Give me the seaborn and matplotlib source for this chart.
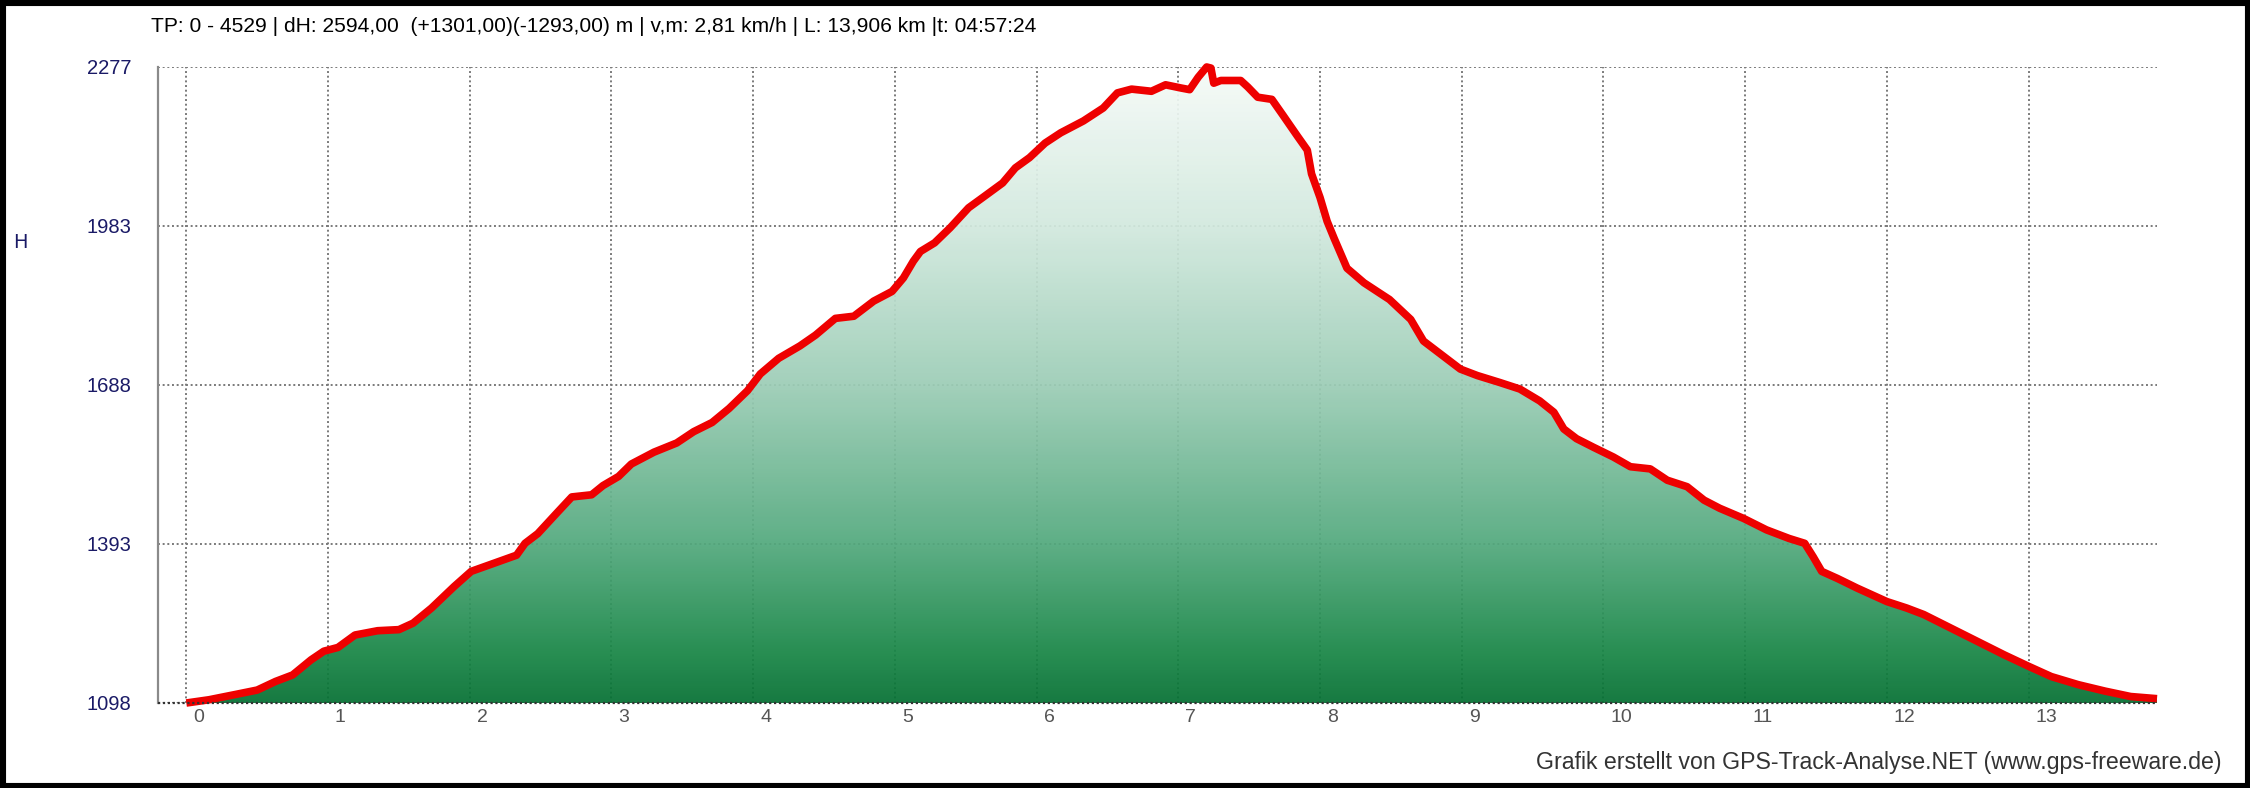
import numpy as np
import matplotlib
matplotlib.use("Agg")
import matplotlib.pyplot as plt
import seaborn as sns
from matplotlib import font_manager
from matplotlib.colors import LinearSegmentedColormap
from matplotlib.patches import Rectangle
import matplotlib.transforms as mtransforms

# ---------------- data ----------------
distance_km = [0, 0.16, 0.35, 0.5, 0.63, 0.75, 0.88, 0.97, 1.07, 1.19,
               1.35, 1.5, 1.6, 1.73, 1.89, 2.01, 2.17, 2.33, 2.39, 2.48,
               2.61, 2.72, 2.86, 2.94, 3.05, 3.14, 3.3, 3.46, 3.58, 3.71,
               3.83, 3.96, 4.05, 4.18, 4.33, 4.44, 4.58, 4.71, 4.85, 4.98,
               5.06, 5.13, 5.18, 5.28, 5.39, 5.52, 5.63, 5.76, 5.85, 5.95,
               6.06, 6.17, 6.33, 6.47, 6.57, 6.67, 6.81, 6.91, 7.02, 7.08,
               7.14, 7.2, 7.23, 7.25, 7.3, 7.44, 7.49, 7.56, 7.66, 7.74,
               7.84, 7.91, 7.94, 8.0, 8.05, 8.1, 8.19, 8.31, 8.42, 8.49,
               8.64, 8.73, 8.85, 8.99, 9.11, 9.27, 9.41, 9.55, 9.65, 9.72,
               9.81, 9.93, 10.07, 10.19, 10.33, 10.45, 10.59, 10.71, 10.82, 10.99,
               11.15, 11.31, 11.42, 11.48, 11.54, 11.65, 11.79, 12.0, 12.14, 12.26,
               12.45, 12.64, 12.83, 13.0, 13.16, 13.35, 13.54, 13.72, 13.906]
elevation_m = [1098, 1104, 1114, 1122, 1138, 1150, 1178, 1194, 1201, 1224,
               1232, 1234, 1246, 1274, 1314, 1342, 1357, 1372, 1394, 1412,
               1449, 1480, 1484, 1501, 1518, 1541, 1563, 1580, 1601, 1618,
               1644, 1677, 1708, 1737, 1760, 1780, 1811, 1815, 1843, 1861,
               1886, 1917, 1935, 1951, 1979, 2016, 2037, 2062, 2090, 2109,
               2136, 2155, 2177, 2201, 2229, 2236, 2232, 2244, 2238, 2235,
               2258, 2277, 2275, 2247, 2252, 2252, 2240, 2221, 2217, 2187,
               2149, 2123, 2079, 2035, 1991, 1959, 1904, 1877, 1858, 1846,
               1809, 1769, 1745, 1717, 1705, 1692, 1680, 1658, 1637, 1606,
               1588, 1572, 1554, 1536, 1532, 1511, 1499, 1474, 1459, 1440,
               1419, 1403, 1394, 1369, 1342, 1329, 1311, 1286, 1274, 1262,
               1237, 1212, 1187, 1166, 1147, 1132, 1120, 1110, 1106]
y_ticks = [1098, 1393, 1688, 1983, 2277]
x_ticks = list(range(0, 14))
x_labels = [str(v) for v in x_ticks]
title_text = "TP: 0 - 4529 | dH: 2594,00  (+1301,00)(-1293,00) m | v,m: 2,81 km/h | L: 13,906 km |t: 04:57:24"
credit_text = "Grafik erstellt von GPS-Track-Analyse.NET (www.gps-freeware.de)"
y_axis_label = "H"

# ---------------- style ----------------
sns.set_style("white")
avail = {f.name for f in font_manager.fontManager.ttflist}
sans = "Liberation Sans" if "Liberation Sans" in avail else "DejaVu Sans"
plt.rcParams['font.family'] = [sans, 'DejaVu Sans']

W, H = 2250, 788
fig = plt.figure(figsize=(W / 100, H / 100), dpi=100)
fig.patch.set_facecolor("white")

ax_left, ax_right, ax_top, ax_bot = 158, 2157, 67, 703
ax = fig.add_axes([ax_left / W, 1 - ax_bot / H, (ax_right - ax_left) / W, (ax_bot - ax_top) / H])
ax.set_facecolor("white")

xmin, xmax = -0.2, 13.906
ymin, ymax = y_ticks[0], y_ticks[-1]

# gradient fill clipped to profile
poly = ax.fill_between(distance_km, elevation_m, ymin, color="none", lw=0)
cmap = LinearSegmentedColormap.from_list(
    "terrain_green",
    [(0.0, "#057033"), (0.08, "#188646"), (0.25, "#52a97d"),
     (0.5, "#9ccdb6"), (0.75, "#d2e9de"), (1.0, "#f6fbf8")])
grad = np.linspace(0, 1, 256).reshape(-1, 1)
im = ax.imshow(grad, extent=[xmin, xmax, ymin, ymax], origin="lower",
               cmap=cmap, aspect="auto", zorder=1, alpha=0.93)
im.set_clip_path(poly.get_paths()[0], transform=ax.transData)

sns.lineplot(x=distance_km, y=elevation_m, ax=ax, color="#ee0000",
             linewidth=5.5, sort=False, estimator=None, zorder=3)
for ln in ax.lines:
    ln.set_clip_on(False)
    ln.set_solid_joinstyle("round")
    ln.set_solid_capstyle("butt")

ax.set_xlim(xmin, xmax)
ax.set_ylim(ymin, ymax)
ax.set_xticks(x_ticks)
ax.set_xticklabels(x_labels)
ax.set_yticks(y_ticks)
ax.set_yticklabels([str(v) for v in y_ticks])
ax.grid(True, linestyle=(0, (1, 1.4)), color="#7a7a7a", linewidth=1.4)
ax.set_axisbelow(True)
ax.axhline(ymin, color="#333333", linestyle=(0, (1, 1.2)), linewidth=1.6, zorder=4, clip_on=False)

for s in ["top", "right", "bottom"]:
    ax.spines[s].set_visible(False)
ax.spines["left"].set_color("#8a8a8a")
ax.spines["left"].set_linewidth(1.6)

ax.tick_params(axis="y", direction="in", length=9, width=1.4, color="#8a8a8a",
               labelcolor="#1a1a66", labelsize=14.5, pad=19)
ax.tick_params(axis="x", direction="out", length=13, width=2.0, color="#111111",
               labelcolor="#555555", labelsize=14, pad=-9)
offset = mtransforms.ScaledTranslation(5 / 72, 0, fig.dpi_scale_trans)
for lbl in ax.get_xticklabels():
    lbl.set_horizontalalignment("left")
    lbl.set_transform(lbl.get_transform() + offset)
ax.set_xlabel("")
ax.set_ylabel("")

# texts
def fit_text(t, target_px):
    fig.canvas.draw()
    r = fig.canvas.get_renderer()
    w = t.get_window_extent(r).width
    t.set_fontsize(t.get_fontsize() * target_px / w)

t1 = fig.text(151 / W, 1 - 26 / H, title_text, ha="left", va="center",
              fontsize=14, color="black")
t2 = fig.text(2221 / W, 1 - 763 / H, credit_text, ha="right", va="center",
              fontsize=14, color="#333333")
fit_text(t1, 889)
fit_text(t2, 693)
fig.text(20 / W, 1 - 242 / H, y_axis_label, ha="center", va="center",
         fontsize=14, color="#1a1a66", family=["DejaVu Sans"])

# outer frame
fig.patches.append(Rectangle((0, 0), 1, 1, transform=fig.transFigure, fill=False,
                             edgecolor="black", linewidth=8, zorder=10))

fig.savefig("out.png", dpi=100)
